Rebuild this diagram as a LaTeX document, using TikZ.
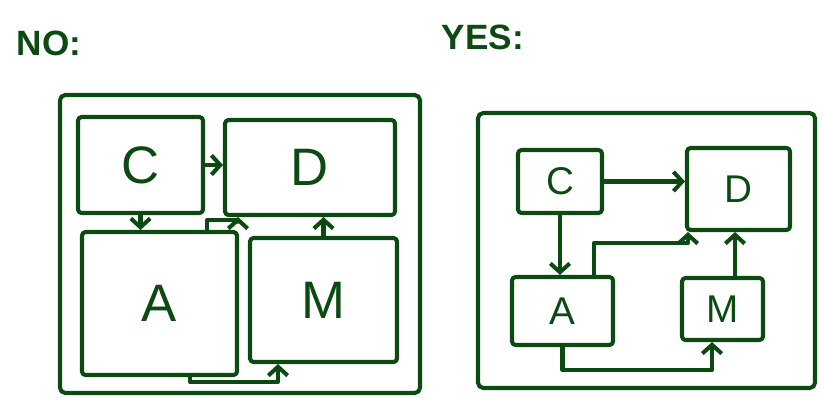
\documentclass[tikz,border=0pt]{standalone}
\usepackage{fontspec}
\setsansfont{Liberation Sans}
\usepackage{tikz}
\usetikzlibrary{arrows.meta, positioning}
\definecolor{inkGreen}{HTML}{0B4A10}

\begin{document}
\begin{tikzpicture}[
  line width=2.3pt, color=inkGreen, line cap=round, line join=round,
  frame/.style={draw, rectangle, rounded corners=3pt},
  part/.style={draw, rectangle, rounded corners=2pt, font=\sffamily\fontsize{30}{30}\selectfont},
  small/.style={part, font=\sffamily\fontsize{22}{22}\selectfont},
  heading/.style={font=\sffamily\bfseries\fontsize{20}{20}\selectfont},
  arrow/.style={-{Straight Barb[length=5pt, width=11pt]}},
]
\useasboundingbox (0,0) rectangle (16.48,8.1);

% Headings
\node[heading] (no) at (0.98,7.24) {NO:};
\node[heading] (yes) at (9.66,7.36) {YES:};

% NO: boxes packed into the frame
\node[frame, minimum width=7.2cm, minimum height=5.96cm] (frameL) at (4.8,3.22) {};
\node[part, minimum width=2.5cm, minimum height=1.92cm] (cL) at (2.81,4.8) {C};
\node[part, minimum width=3.4cm, minimum height=1.9cm] (dL) at (6.2,4.75) {D};
\node[part, minimum width=3.1cm, minimum height=2.86cm] (aL) at (3.19,2.03) {A};
\node[part, minimum width=2.94cm, minimum height=2.48cm] (mL) at (6.47,2.1) {M};

% NO: arrows
\draw[arrow] (cL.east) -- (cL.east -| dL.west);
\draw[arrow] (cL.south) -- (cL.south |- aL.north);
\draw[arrow] (mL.north) -- (mL.north |- dL.south);
\draw[arrow] ([xshift=-0.64cm]aL.north east) -- ++(0,0.2) -| ([xshift=0.3cm]dL.south west);
\draw[arrow] ([xshift=0.61cm]aL.south) -- ++(0,-0.1) -| ([xshift=-0.91cm]mL.south);

% YES: small boxes with room for the arrows
\node[frame, minimum width=6.74cm, minimum height=5.5cm] (frameR) at (12.93,3.09) {};
\node[small, minimum width=1.68cm, minimum height=1.26cm] (cR) at (11.2,4.47) {C};
\node[small, minimum width=2.06cm, minimum height=1.64cm] (dR) at (14.77,4.32) {D};
\node[small, minimum width=2.02cm, minimum height=1.36cm] (aR) at (11.25,1.88) {A};
\node[small, minimum width=1.62cm, minimum height=1.24cm] (mR) at (14.45,1.92) {M};

% YES: arrows
\draw[arrow] (cR.east) -- (cR.east -| dR.west);
\draw[arrow] (cR.south) -- (cR.south |- aR.north);
\draw[arrow] ([xshift=0.25cm]mR.north) -- ([xshift=0.25cm]mR.north |- dR.south);
\draw[arrow] ([xshift=-0.42cm]aR.north east) -- ++(0,0.64) -| ([xshift=0.06cm]dR.south west);
\draw[arrow] (aR.south) -- ++(0,-0.46) -| ([xshift=-0.21cm]mR.south);

\end{tikzpicture}
\end{document}
